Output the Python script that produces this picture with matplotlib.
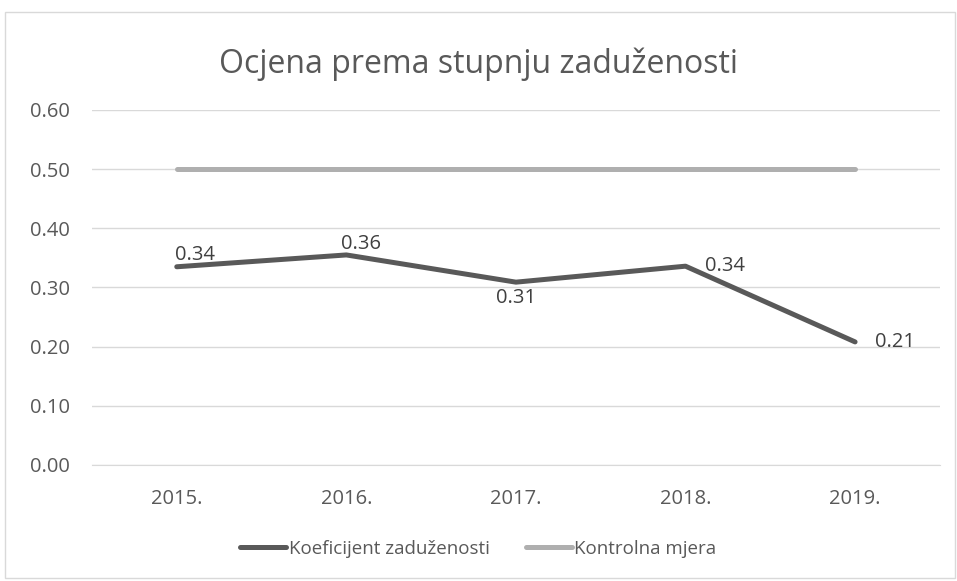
import matplotlib.pyplot as plt
from matplotlib.patches import Rectangle

years = ["2015.", "2016.", "2017.", "2018.", "2019."]
koeficijent = [0.335, 0.355, 0.309, 0.336, 0.208]
kontrolna = [0.50, 0.50, 0.50, 0.50, 0.50]
label_text = ["0.34", "0.36", "0.31", "0.34", "0.21"]
yticks = [0.0, 0.1, 0.2, 0.3, 0.4, 0.5, 0.6]

# label offsets in points (dx, dy, ha, va), Excel-like placement
label_pos = [(-1, 1, "left", "bottom"), (-4, 1, "left", "bottom"),
             (0, -4, "center", "top"), (14, 0, "left", "center"),
             (14, 0, "left", "center")]

plt.rcParams["font.family"] = ["Open Sans", "DejaVu Sans"]
txt = "#595959"

fig = plt.figure(figsize=(9.57, 5.81), dpi=100)
ax = fig.add_axes([0.0961, 0.1997, 0.886, 0.611])

x = list(range(len(years)))
ax.plot(x, kontrolna, color="#afafaf", lw=3.6, solid_capstyle="round",
        label="Kontrolna mjera", zorder=3)
ax.plot(x, koeficijent, color="#595959", lw=3.6, solid_capstyle="round",
        solid_joinstyle="round", label="Koeficijent zaduženosti", zorder=4)

for i, v in enumerate(koeficijent):
    dx, dy, ha, va = label_pos[i]
    ax.annotate(label_text[i], (i, v), xytext=(dx, dy), textcoords="offset points",
                ha=ha, va=va, fontsize=14.5, color="#404040", zorder=5)

ax.set_xlim(-0.5, len(years) - 0.5)
ax.set_ylim(0, 0.6)
ax.set_xticks(x)
ax.set_xticklabels(years)
ax.set_yticks(yticks)
ax.set_yticklabels([f"{t:.2f}" for t in yticks])
ax.tick_params(axis="both", length=0, labelsize=14.5, labelcolor=txt)
ax.tick_params(axis="y", pad=16)
ax.tick_params(axis="x", pad=17)
ax.grid(axis="y", color="#d9d9d9", lw=1)
ax.set_axisbelow(True)
for s in ["top", "right", "left"]:
    ax.spines[s].set_visible(False)
ax.spines["bottom"].set_color("#d9d9d9")

fig.text(0.5, 0.89, "Ocjena prema stupnju zaduženosti", ha="center", va="center",
         fontsize=23, color=txt)

handles, labels = ax.get_legend_handles_labels()
fig.legend(handles[::-1], labels[::-1], loc="center", bbox_to_anchor=(0.5, 0.055),
           ncol=2, frameon=False, fontsize=13.5, labelcolor=txt,
           handlelength=2.45, handletextpad=0.15, columnspacing=1.9)

fig.add_artist(Rectangle((5 / 957, 3 / 581), 950 / 957, 566 / 581,
                         transform=fig.transFigure, fill=False,
                         edgecolor="#d9d9d9", lw=1))

fig.savefig("out.png", dpi=100)
